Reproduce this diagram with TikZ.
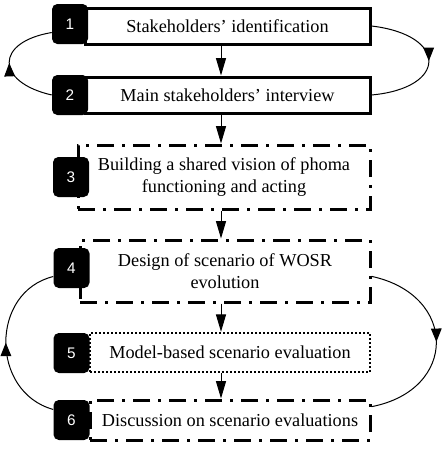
\documentclass[tikz,border=0pt]{standalone}
\usepackage{fontspec}
\setmainfont{Liberation Serif}
\newfontfamily\badgefont{Liberation Sans}
\usetikzlibrary{arrows.meta,decorations.markings}

\begin{document}
\begin{tikzpicture}[x=0.75pt,y=-0.75pt,
		stepbox/.style={draw,line width=2.25pt,align=center,inner sep=0pt,font=\fontsize{13.7}{16.5}\selectfont},
		dashdot/.style={dash pattern=on 13pt off 6pt on 2pt off 6pt},
		dotline/.style={line width=1.8pt,dash pattern=on 1.5pt off 1.5pt},
		badge/.style={fill=black,rounded corners=4pt,minimum width=27pt,minimum height=30pt,inner sep=0pt,text=white,font=\badgefont\fontsize{11.5}{13}\selectfont},
		link/.style={line width=0.75pt,-{Triangle[length=13pt,width=7.5pt]}},
		feedback/.style={line width=0.75pt,postaction={decorate},
			decoration={markings,mark=at position 0.5 with {\arrow{Triangle[length=10pt,width=8pt]}}}}]
		\useasboundingbox (0,0) rectangle (442,450);

		% steps
		\node[stepbox,minimum width=213.75pt,minimum height=27pt] (s1) at (227.5,26) {Stakeholders' identification};
		\node[stepbox,minimum width=213.75pt,minimum height=27pt] (s2) at (227.5,95) {Main stakeholders' interview};
		\node[stepbox,dashdot,minimum width=219pt,minimum height=48pt] (s3) at (224,177) {Building a shared vision of phoma\\functioning and acting};
		\node[stepbox,dashdot,minimum width=217.5pt,minimum height=46.5pt] (s4) at (225,271) {Design of scenario of WOSR\\evolution};
		\node[stepbox,dotline,minimum width=210pt,minimum height=29.25pt] (s5) at (230,352.5) {Model-based scenario evaluation};
		\node[stepbox,dashdot,minimum width=210pt,minimum height=30pt] (s6) at (230,420) {Discussion on scenario evaluations};

		% numbers
		\foreach \n/\x/\y in {1/70/24, 2/70/95, 3/71/177, 4/71.5/268, 5/71.5/353, 6/71.5/420}
			\node[badge] (b\n) at (\x,\y) {\n};

		% links
		\coordinate (axis) at (221,0);
		\foreach \a/\b in {1/2, 2/3, 3/4, 4/5, 5/6}
			\draw[link] (axis |- s\a.south) -- (axis |- s\b.north);

		% loops
		\draw[feedback] (b2.west) .. controls (-5,82) and (-5,42) .. (b1.205);
		\draw[feedback] (s1.east) .. controls (448,35) and (448,88) .. (s2.east);
		\draw[feedback] (b6.150) .. controls (-10,392) and (-10,292) .. (b4.205);
		\draw[feedback] ([yshift=-4pt]s4.east) .. controls (458,295) and (458,390) .. ([yshift=10pt]s6.east);
	\end{tikzpicture}
\end{document}
